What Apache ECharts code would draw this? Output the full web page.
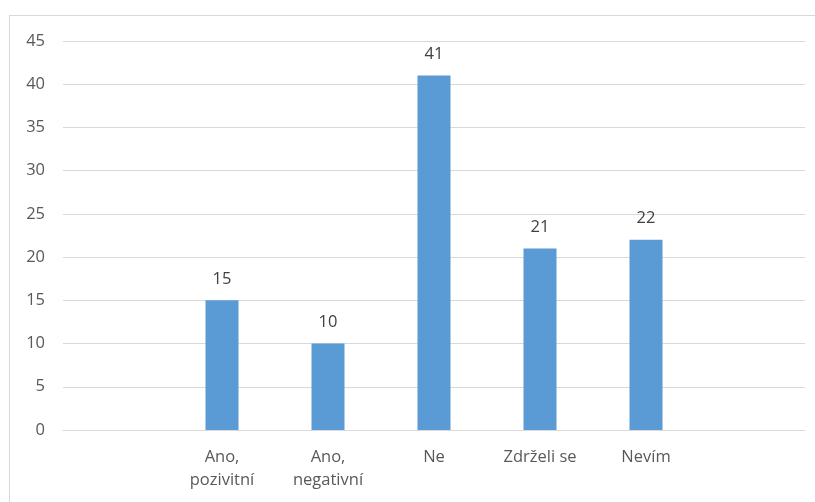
<!DOCTYPE html>
<html>
<head>
<meta charset="utf-8">
<script src="https://cdn.jsdelivr.net/npm/echarts@6/dist/echarts.min.js"></script>
<style>
  html, body { margin: 0; padding: 0; background: #fff; overflow: hidden; }
  #frame { position: absolute; left: 9px; top: 15px; width: 900px; height: 600px; border: 1px solid #d9d9d9; }
  #chart { position: absolute; left: 0; top: 0; width: 815px; height: 502px; }
</style>
</head>
<body>
<div id="frame"></div>
<div id="chart"></div>
<script>
const categories = ['', 'Ano,\npozivitní', 'Ano,\nnegativní', 'Ne', 'Zdrželi se', 'Nevím', ''];
const values = [null, 15, 10, 41, 21, 22, null];

const textFont = '"Open Sans", "Noto Sans", sans-serif';

const chart = echarts.init(document.getElementById('chart'));
const option = {
  animation: false,
  grid: {
    left: 63,
    right: 10,
    top: 41,
    bottom: 72
  },
  xAxis: {
    type: 'category',
    data: categories,
    axisLine: { lineStyle: { color: '#d9d9d9', width: 1 } },
    axisTick: { show: false },
    axisLabel: {
      color: '#595959',
      fontSize: 16.5,
      fontFamily: textFont,
      lineHeight: 23,
      margin: 16,
      interval: 0
    }
  },
  yAxis: {
    type: 'value',
    min: 0,
    max: 45,
    interval: 5,
    axisLine: { show: false },
    axisTick: { show: false },
    axisLabel: {
      color: '#595959',
      fontSize: 16.5,
      fontFamily: textFont,
      margin: 18
    },
    splitLine: { lineStyle: { color: '#d9d9d9', width: 1 } }
  },
  series: [
    {
      type: 'bar',
      data: values,
      barWidth: 33,
      itemStyle: { color: '#5b9bd5' },
      label: {
        show: true,
        position: 'top',
        distance: 13,
        color: '#404040',
        fontSize: 16.5,
        fontFamily: textFont
      }
    }
  ]
};
chart.setOption(option);
</script>
</body>
</html>
